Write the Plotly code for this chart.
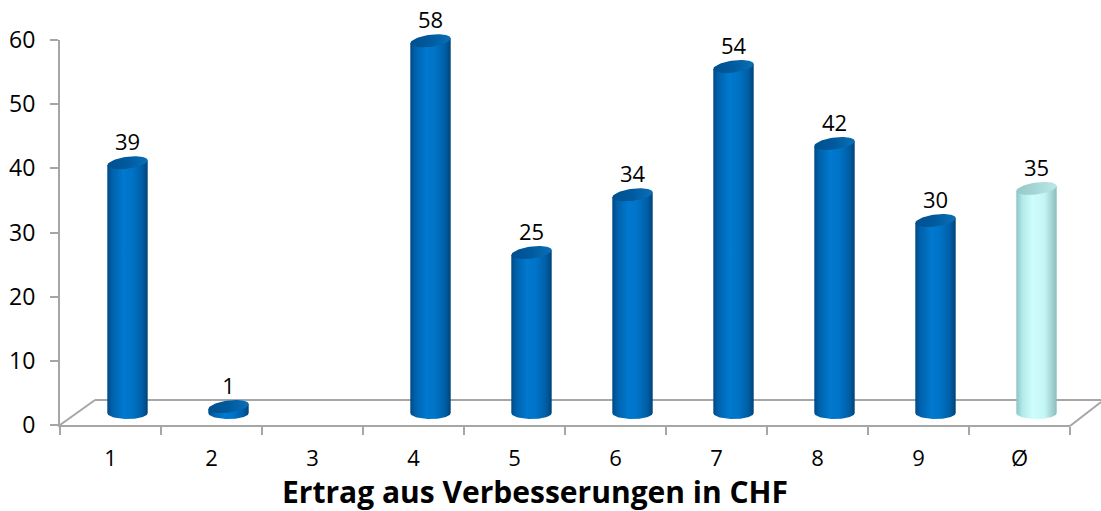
import numpy as np
import plotly.graph_objects as go

# ---------------- data ----------------
categories = ["1", "2", "3", "4", "5", "6", "7", "8", "9", "Ø"]
values = [39, 1, None, 58, 25, 34, 54, 42, 30, 35]
value_labels = ["39", "1", "", "58", "25", "34", "54", "42", "30", "35"]
highlight = [False] * 9 + [True]
y_ticks = [0, 10, 20, 30, 40, 50, 60]
x_title = "Ertrag aus Verbesserungen in CHF"

# ---------------- geometry helpers (pixel -> paper) ----------------
W, H = 1101, 511
def px(x):
    return x / W
def py(y):
    return 1 - y / H

UNIT = (425 - 40) / 60.0        # px per value unit
GRAY = "#a6a6a6"
FONT = "Open Sans, Liberation Sans, sans-serif"
TITLE_FONT = "Open Sans, Liberation Sans, sans-serif"

BLUE_BODY = [[0, "#004a86"], [0.12, "#0061ab"], [0.4, "#0079cf"], [0.62, "#0073c6"],
             [0.86, "#005ea6"], [1, "#004377"]]
BLUE_CAP = [[0, "#004f8e"], [0.5, "#005b9e"], [1, "#0a70b8"]]
CYAN_BODY = [[0, "#8ec3c3"], [0.15, "#b3e9e9"], [0.4, "#cdfdfd"], [0.7, "#c5f6f6"],
             [1, "#8dbcbc"]]
CYAN_CAP = [[0, "#96c6c6"], [1, "#bae8e8"]]

fig = go.Figure()

# invisible trace to carry the category axis
fig.add_trace(go.Scatter(x=categories, y=[0] * len(categories), mode="markers",
                         marker=dict(opacity=0), xaxis="x", yaxis="y",
                         showlegend=False, hoverinfo="skip"))

# cylinders on the shifted (mid-depth) subplot
half_w = 0.2
ell = 6 / UNIT
shear = 2.5 / UNIT
for i, (v, hl) in enumerate(zip(values, highlight)):
    if v is None:
        continue
    c = i
    t = np.linspace(0, np.pi, 50)
    bx = list(c + half_w * np.cos(t))
    by = list(-ell * np.sin(t))
    xs = [c - half_w, c + half_w, c + half_w] + bx + [c - half_w]
    ys = [v - shear, v + shear, 0] + by + [v - shear]
    fig.add_trace(go.Scatter(
        x=xs, y=ys, mode="lines", fill="toself", line=dict(width=0),
        fillgradient=dict(type="horizontal", colorscale=CYAN_BODY if hl else BLUE_BODY),
        xaxis="x2", yaxis="y2", showlegend=False, hoverinfo="skip"))
    tt = np.linspace(0, 2 * np.pi, 80)
    cx = c + half_w * np.cos(tt)
    cy = v + ell * np.sin(tt) + shear * np.cos(tt)
    fig.add_trace(go.Scatter(
        x=cx, y=cy, mode="lines", fill="toself", line=dict(width=0),
        fillgradient=dict(type="horizontal", colorscale=CYAN_CAP if hl else BLUE_CAP),
        xaxis="x2", yaxis="y2", showlegend=False, hoverinfo="skip"))

# value labels
lab_x = [i for i, v in enumerate(values) if v is not None]
lab_y = [v + 18 / UNIT for v in values if v is not None]
lab_t = [value_labels[i] for i in lab_x]
fig.add_trace(go.Scatter(x=lab_x, y=lab_y, text=lab_t, mode="text",
                         textfont=dict(size=22, color="black", family=FONT),
                         cliponaxis=False, xaxis="x2", yaxis="y2",
                         showlegend=False, hoverinfo="skip"))

# 3D floor outline
floor = [((60, 425), (95, 400)), ((95, 400), (1101, 400)), ((1070, 426), (1101, 402))]
shapes = [dict(type="line", xref="paper", yref="paper", x0=px(a[0]), y0=py(a[1]),
               x1=px(b[0]), y1=py(b[1]), line=dict(color=GRAY, width=2), layer="below")
          for a, b in floor]

Y2_TOP = 64
fig.update_layout(
    width=W, height=H, margin=dict(l=0, r=0, t=0, b=0, autoexpand=False),
    paper_bgcolor="white", plot_bgcolor="rgba(0,0,0,0)",
    showlegend=False, shapes=shapes,
    xaxis=dict(type="category", categoryorder="array", categoryarray=categories,
               range=[-0.5, len(categories) - 0.5], domain=[px(60), px(1070)],
               anchor="y", showline=True, linecolor=GRAY, linewidth=2,
               ticks="outside", ticklen=8, tickcolor=GRAY, tickwidth=2,
               tickson="boundaries", showgrid=False, zeroline=False, automargin=False,
               tickfont=dict(size=22, color="black", family=FONT), ticklabelstandoff=13),
    yaxis=dict(range=[0, 60], domain=[py(425), py(40)], anchor="x",
               tickvals=y_ticks, showline=True, linecolor=GRAY, linewidth=2,
               ticks="outside", ticklen=8, tickcolor=GRAY, tickwidth=2,
               showgrid=False, zeroline=False, automargin=False,
               tickfont=dict(size=23, color="black", family=FONT), ticklabelstandoff=10),
    xaxis2=dict(range=[-0.5, len(categories) - 0.5], domain=[px(77), px(1087)],
                anchor="y2", visible=False, automargin=False),
    yaxis2=dict(range=[-2, Y2_TOP], domain=[py(413 + 2 * UNIT), py(413 - Y2_TOP * UNIT)],
                anchor="x2", visible=False, automargin=False),
    annotations=[dict(text="<b>" + x_title + "</b>", xref="paper", yref="paper",
                      x=px(535), y=py(491), xanchor="center", yanchor="middle",
                      showarrow=False,
                      font=dict(size=30, color="black", family=TITLE_FONT))],
)

fig.write_html("out.html", config={"displayModeBar": False},
               post_script="document.body.style.margin='0';")
